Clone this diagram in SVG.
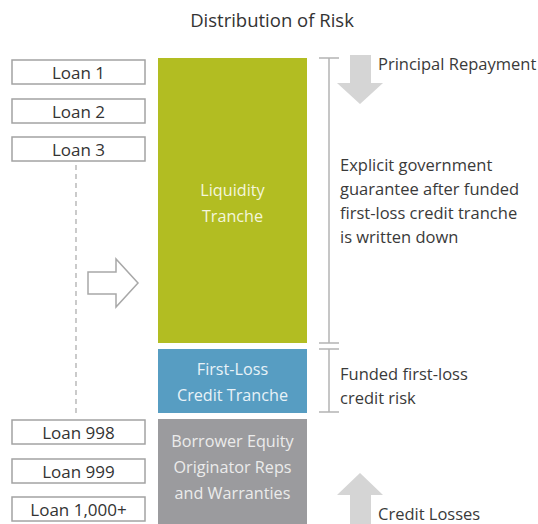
<svg xmlns="http://www.w3.org/2000/svg" width="538" height="524" viewBox="0 0 538 524">
  <style>
    text { font-family: "Open Sans", "Noto Sans", "Liberation Sans", sans-serif; }
    .title { font-size: 18.5px; fill: #333333; }
    .loan rect { fill: #ffffff; stroke: #a3a3a3; stroke-width: 1.5; }
    .loan text { font-size: 17px; fill: #333333; text-anchor: middle; }
    .label { font-size: 16.5px; fill: #3a3a3a; }
    .tranche-text { font-size: 16.2px; text-anchor: middle; }
    .bracket { stroke: #b4b4b4; stroke-width: 1.5; fill: none; }
    .flow { fill: #d5d5d5; }
  </style>

  <text class="title" x="272" y="27" text-anchor="middle">Distribution of Risk</text>

  <!-- pool of loans -->
  <g id="loan-1" class="loan"><rect x="12" y="60" width="133" height="24"/><text x="78.5" y="78.5">Loan 1</text></g>
  <g id="loan-2" class="loan"><rect x="12" y="99" width="133" height="24"/><text x="78.5" y="117.5">Loan 2</text></g>
  <g id="loan-3" class="loan"><rect x="12" y="137" width="133" height="24"/><text x="78.5" y="155.5">Loan 3</text></g>
  <g id="loan-998" class="loan"><rect x="12" y="420" width="133" height="24"/><text x="78.5" y="438.5">Loan 998</text></g>
  <g id="loan-999" class="loan"><rect x="12" y="459" width="133" height="24"/><text x="78.5" y="477.5">Loan 999</text></g>
  <g id="loan-1000" class="loan"><rect x="12" y="497" width="133" height="24"/><text x="78.5" y="515.5">Loan 1,000+</text></g>

  <g id="connectors">
    <!-- elided loans between 3 and 998 -->
    <line x1="76" y1="165" x2="76" y2="417" stroke="#a8a8a8" stroke-width="1.2" stroke-dasharray="5,4"/>
    <!-- pooled into tranches -->
    <path d="M88,272 H116 V259 L138,283 L116,307 V294 H88 Z" fill="#ffffff" stroke="#a8a8a8" stroke-width="1.5"/>
    <!-- extent brackets -->
    <path class="bracket" d="M319,58 H339 M329,58 V343 M319,343 H339"/>
    <path class="bracket" d="M319,349 H339 M329,349 V412 M319,412 H339"/>
    <!-- principal repayment flows down, credit losses flow up -->
    <path class="flow" d="M350,55 H371 V83 H383 L360,104 L337,83 H350 Z"/>
    <path class="flow" d="M350,524 V495 H337 L360,473 L383,495 H371 V524 Z"/>
  </g>

  <g id="liquidity-tranche">
    <rect x="158" y="58" width="149" height="285" fill="#b2bd22"/>
    <text class="tranche-text" x="232.5" y="196" fill="#f4f6dc">Liquidity</text>
    <text class="tranche-text" x="232.5" y="222" fill="#f4f6dc">Tranche</text>
  </g>
  <g id="first-loss-tranche">
    <rect x="158" y="349" width="149" height="64" fill="#579dc2"/>
    <text class="tranche-text" x="232.5" y="375" fill="#e8f2f8">First-Loss</text>
    <text class="tranche-text" x="232.5" y="401" fill="#e8f2f8">Credit Tranche</text>
  </g>
  <g id="borrower-equity">
    <rect x="158" y="419" width="149" height="105" fill="#9b9b9e"/>
    <text class="tranche-text" x="232.5" y="447" fill="#ebebeb">Borrower Equity</text>
    <text class="tranche-text" x="232.5" y="473" fill="#ebebeb">Originator Reps</text>
    <text class="tranche-text" x="232.5" y="499" fill="#ebebeb">and Warranties</text>
  </g>

  <g id="principal-repayment"><text class="label" x="378" y="70">Principal Repayment</text></g>
  <g id="government-guarantee">
    <text class="label" x="340" y="171">Explicit government</text>
    <text class="label" x="340" y="195">guarantee after funded</text>
    <text class="label" x="340" y="219">first-loss credit tranche</text>
    <text class="label" x="340" y="243">is written down</text>
  </g>
  <g id="funded-first-loss">
    <text class="label" x="340" y="380">Funded first-loss</text>
    <text class="label" x="340" y="404">credit risk</text>
  </g>
  <g id="credit-losses"><text class="label" x="378" y="520">Credit Losses</text></g>
</svg>
